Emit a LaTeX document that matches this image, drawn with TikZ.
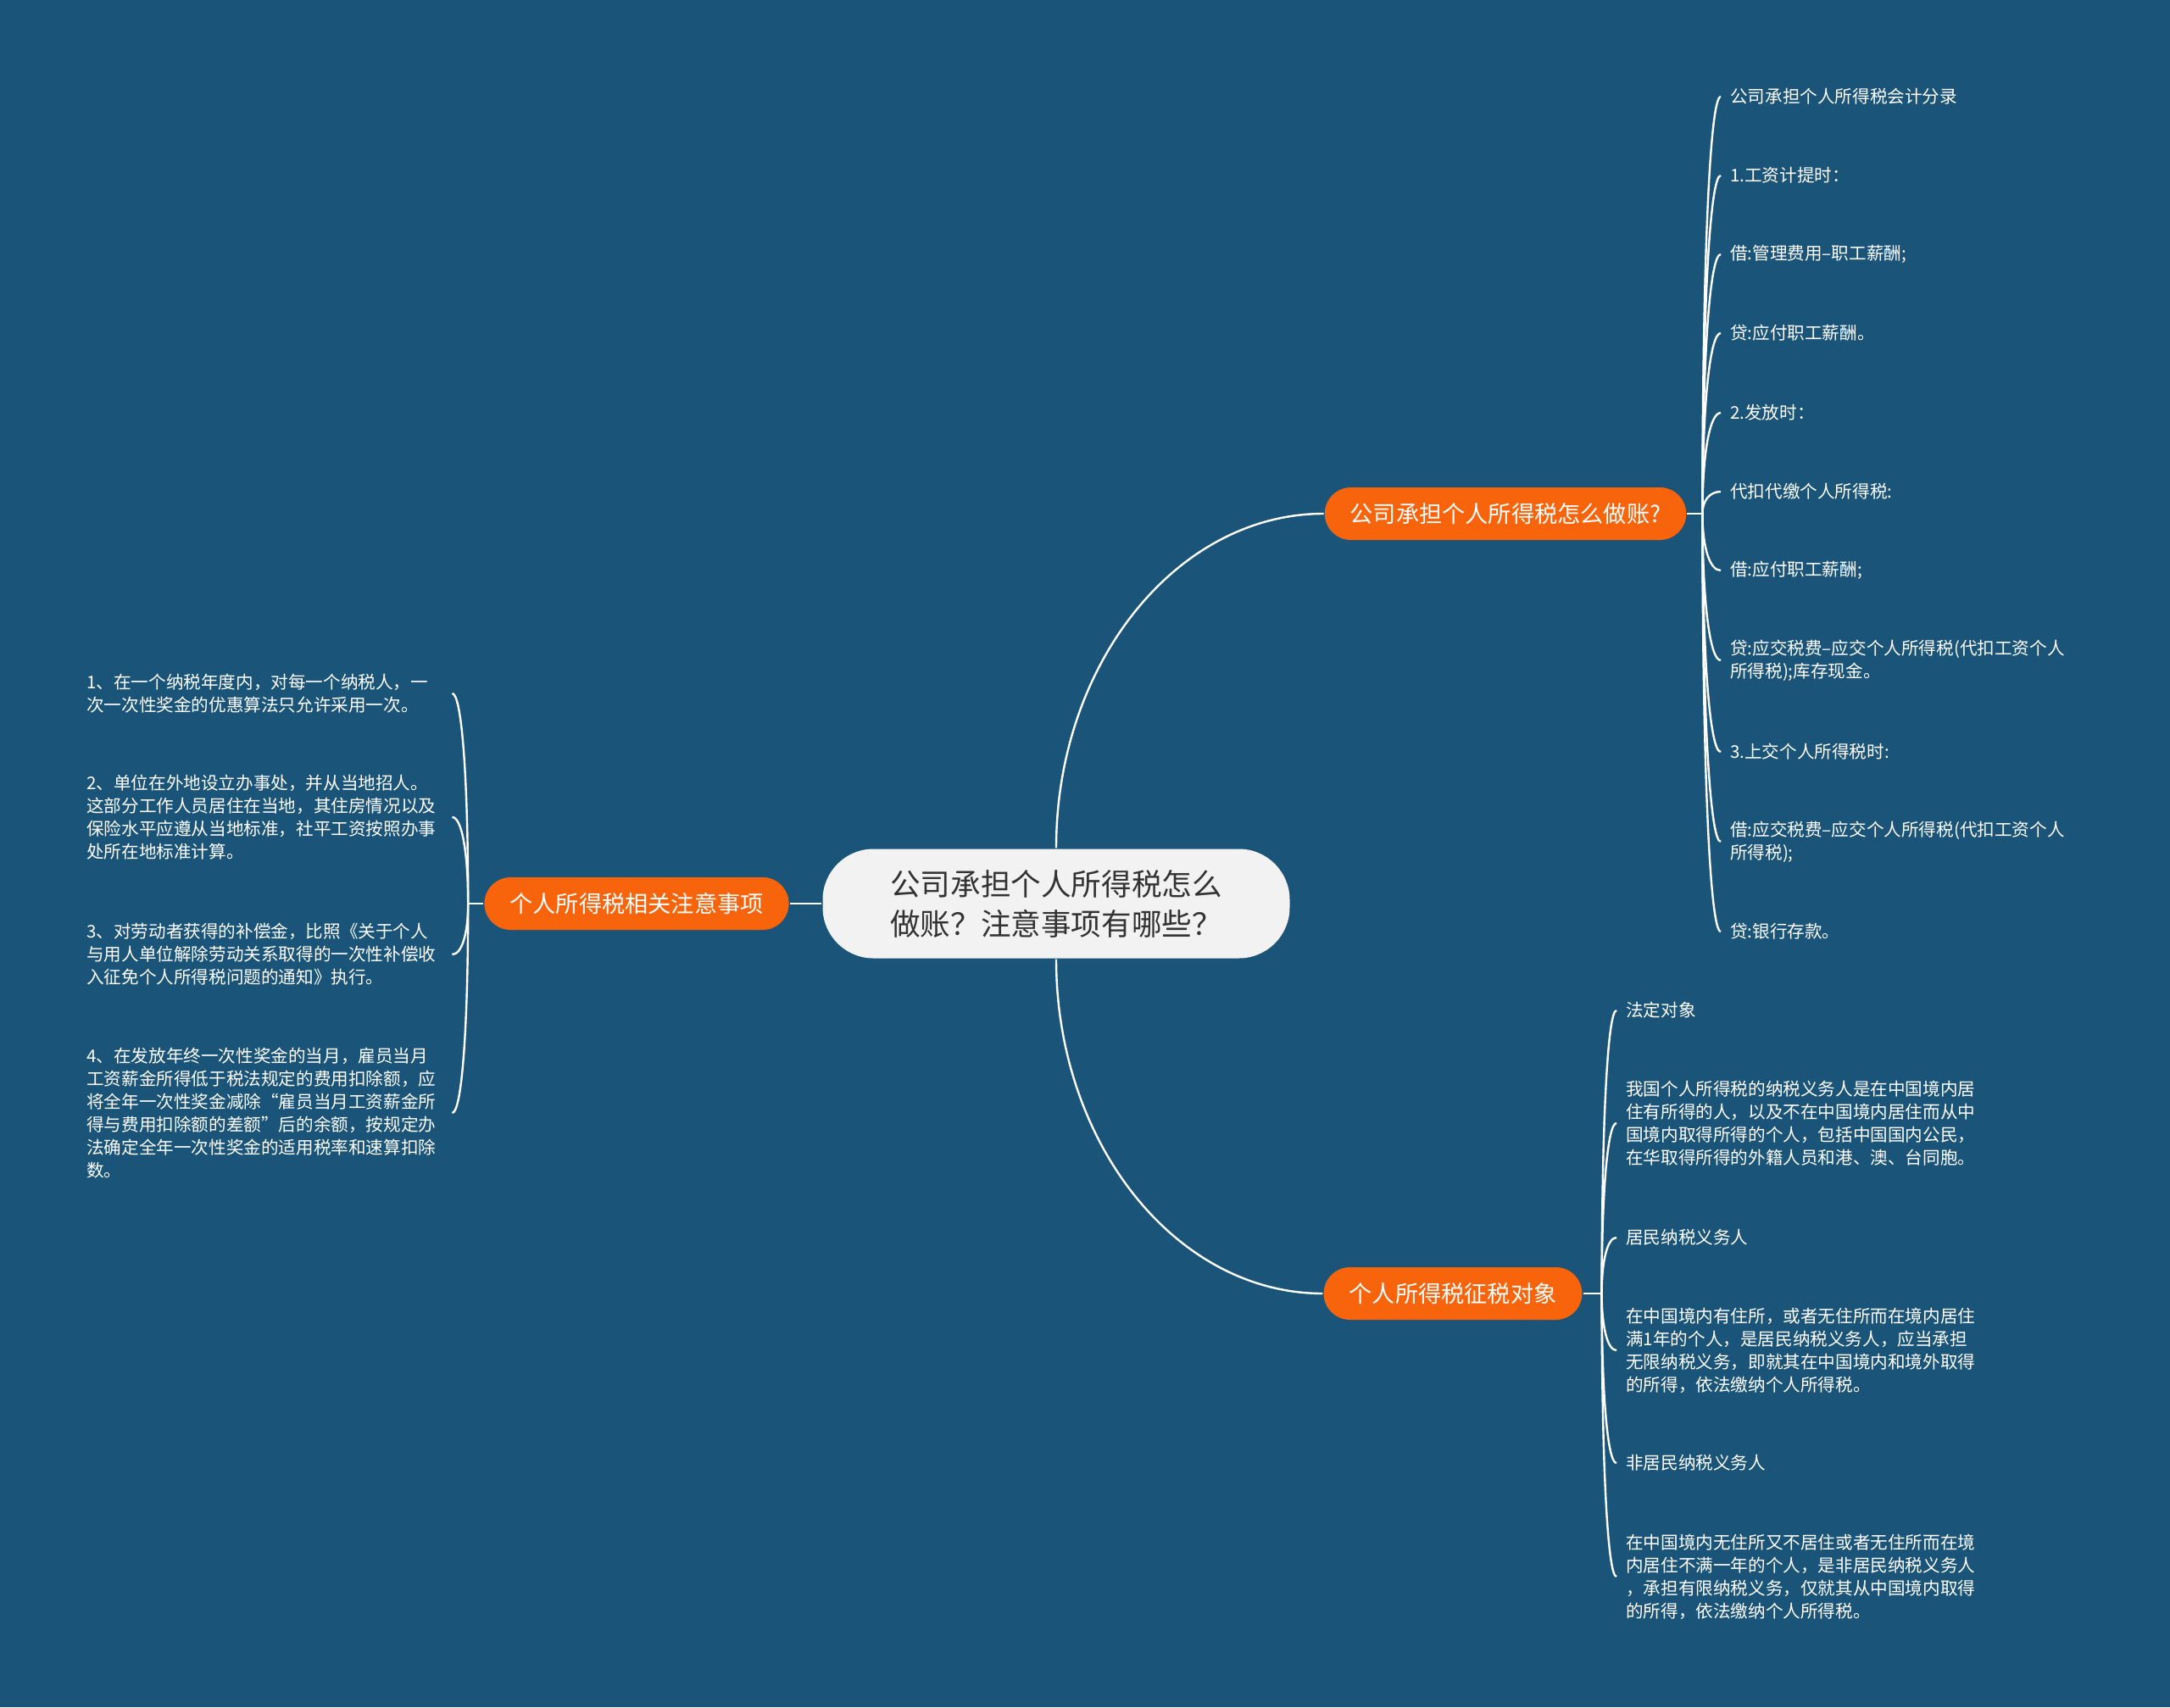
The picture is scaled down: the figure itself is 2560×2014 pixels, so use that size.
\documentclass[tikz,border=0pt]{standalone}
\usepackage{fontspec}
\setmainfont{Noto Sans CJK SC}
\usetikzlibrary{positioning, calc}
\definecolor{cbg}{HTML}{1B5479}
\definecolor{corange}{HTML}{F8640B}
\definecolor{croot}{HTML}{F2F2F2}
\definecolor{cdark}{HTML}{333333}
\tikzset{
  every picture/.style={line width=1.2pt},
  link/.style={draw=white, line width=1.2pt},
  rootbox/.style={fill=croot, text=cdark, rounded corners=30pt, align=left, minimum width=275.5pt, minimum height=64.5pt, font=\fontsize{17.8pt}{23.5pt}\selectfont},
  branch/.style={fill=corange, text=white, rounded corners=15.5pt, minimum height=31pt, inner xsep=15pt, font=\fontsize{13.6pt}{16pt}\selectfont},
  leaf/.style={text=white, align=left, inner xsep=5pt, inner ysep=2pt, font=\fontsize{10.3pt}{13.5pt}\selectfont},
}

\begin{document}
\begin{tikzpicture}[x=0.5pt, y=-0.5pt]
  \fill[cbg] (0,0) rectangle (2560,2014);
  % centre topic
  \node[rootbox] (root) at (1246,1066) {公司承担个人所得税怎么\\做账？注意事项有哪些？};
  % main branches
  \node[branch] (acct) at (1776,606) {公司承担个人所得税怎么做账?};
  \node[branch] (obj) at (1714,1526) {个人所得税征税对象};
  \node[branch] (tips) at (751,1066) {个人所得税相关注意事项};
  \coordinate[right=9pt of acct] (acctj);
  \coordinate[right=11pt of obj] (objj);
  \coordinate[left=9pt of tips] (tipsj);
  \draw[link] (root.west) -- (tips.east);
  \draw[link] (root.north) .. controls ($(root.north)!0.55!(root.north |- acct.west)$) and ($(acct.west)!0.55!(root.north |- acct.west)$) .. (acct.west);
  \draw[link] (root.south) .. controls ($(root.south)!0.55!(root.south |- obj.west)$) and ($(obj.west)!0.55!(root.south |- obj.west)$) .. (obj.west);
  \draw[link] (acct.east) -- (acctj);
  \draw[link] (obj.east) -- (objj);
  \draw[link] (tips.west) -- (tipsj);
  % accounting entries
  \node[leaf, anchor=west] (a1) at (2030,114) {公司承担个人所得税会计分录};
  \node[leaf, anchor=west] (a2) at (2030,207) {1.工资计提时：};
  \node[leaf, anchor=west] (a3) at (2030,300) {借:管理费用–职工薪酬;};
  \node[leaf, anchor=west] (a4) at (2030,393) {贷:应付职工薪酬。};
  \node[leaf, anchor=west] (a5) at (2030,487) {2.发放时：};
  \node[leaf, anchor=west] (a6) at (2030,580) {代扣代缴个人所得税:};
  \node[leaf, anchor=west] (a7) at (2030,673) {借:应付职工薪酬;};
  \node[leaf, anchor=west] (a8) at (2030,779) {贷:应交税费–应交个人所得税(代扣工资个人\\所得税);库存现金。};
  \node[leaf, anchor=west] (a9) at (2030,887) {3.上交个人所得税时:};
  \node[leaf, anchor=west] (a10) at (2030,993) {借:应交税费–应交个人所得税(代扣工资个人\\所得税);};
  \node[leaf, anchor=west] (a11) at (2030,1099) {贷:银行存款。};
  \foreach \i in {1,...,11}
    \draw[link] (acctj) .. controls ($(acctj)!0.6!(acctj |- a\i.west)$) and ($(a\i.west)!0.6!(acctj |- a\i.west)$) .. (a\i.west);
  % taxpayers
  \node[leaf, anchor=west] (b1) at (1907,1192) {法定对象};
  \node[leaf, anchor=west] (b2) at (1907,1325) {我国个人所得税的纳税义务人是在中国境内居\\住有所得的人，以及不在中国境内居住而从中\\国境内取得所得的个人，包括中国国内公民，\\在华取得所得的外籍人员和港、澳、台同胞。};
  \node[leaf, anchor=west] (b3) at (1907,1460) {居民纳税义务人};
  \node[leaf, anchor=west] (b4) at (1907,1593) {在中国境内有住所，或者无住所而在境内居住\\满1年的个人，是居民纳税义务人，应当承担\\无限纳税义务，即就其在中国境内和境外取得\\的所得，依法缴纳个人所得税。};
  \node[leaf, anchor=west] (b5) at (1907,1726) {非居民纳税义务人};
  \node[leaf, anchor=west] (b6) at (1907,1860) {在中国境内无住所又不居住或者无住所而在境\\内居住不满一年的个人，是非居民纳税义务人\\，承担有限纳税义务，仅就其从中国境内取得\\的所得，依法缴纳个人所得税。};
  \foreach \i in {1,...,6}
    \draw[link] (objj) .. controls ($(objj)!0.6!(objj |- b\i.west)$) and ($(b\i.west)!0.6!(objj |- b\i.west)$) .. (b\i.west);
  % notes
  \node[leaf, anchor=west, text width=210pt] (l1) at (91,818) {1、在一个纳税年度内，对每一个纳税人，一\\次一次性奖金的优惠算法只允许采用一次。};
  \node[leaf, anchor=west, text width=210pt] (l2) at (91,964) {2、单位在外地设立办事处，并从当地招人。\\这部分工作人员居住在当地，其住房情况以及\\保险水平应遵从当地标准，社平工资按照办事\\处所在地标准计算。};
  \node[leaf, anchor=west, text width=210pt] (l3) at (91,1126) {3、对劳动者获得的补偿金，比照《关于个人\\与用人单位解除劳动关系取得的一次性补偿收\\入征免个人所得税问题的通知》执行。};
  \node[leaf, anchor=west, text width=210pt] (l4) at (91,1313) {4、在发放年终一次性奖金的当月，雇员当月\\工资薪金所得低于税法规定的费用扣除额，应\\将全年一次性奖金减除“雇员当月工资薪金所\\得与费用扣除额的差额”后的余额，按规定办\\法确定全年一次性奖金的适用税率和速算扣除\\数。};
  \foreach \i in {1,...,4}
    \draw[link] (tipsj) .. controls ($(tipsj)!0.6!(tipsj |- l\i.east)$) and ($(l\i.east)!0.6!(tipsj |- l\i.east)$) .. (l\i.east);
\end{tikzpicture}
\end{document}
